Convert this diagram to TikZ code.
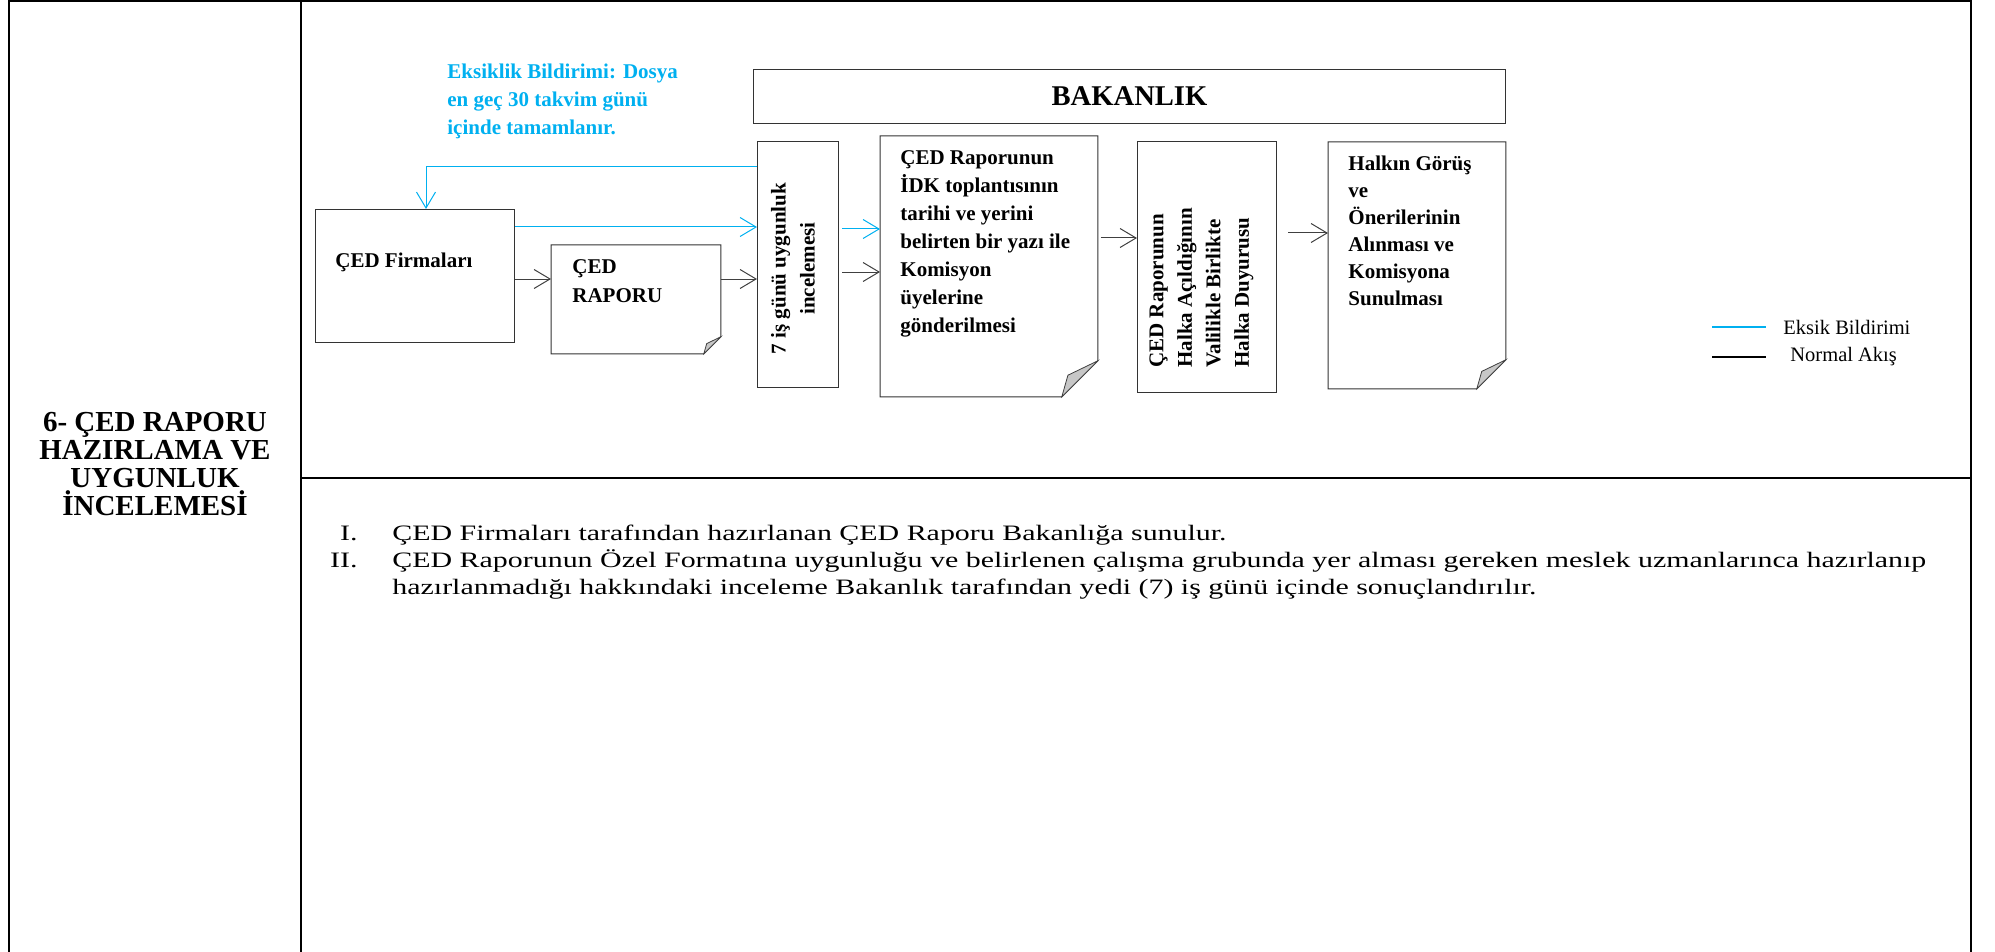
\documentclass[tikz,border=0pt]{standalone}
\usepackage{fontspec}
\setmainfont{Liberation Serif}
\usetikzlibrary{arrows.meta,calc}
\definecolor{eblue}{HTML}{00B0F0}
\newcommand\docoutline[2]{%
  \draw[draw=black!80, line width=0.5pt] (#1.north west) -- (#1.north east) -- ([yshift=#2]#1.south east) -- ([xshift=-#2]#1.south east) -- (#1.south west) -- cycle;
  \filldraw[foldfill] ([yshift=#2]#1.south east) -- ([xshift=-0.83*#2,yshift=0.6*#2]#1.south east) -- ([xshift=-#2]#1.south east) -- cycle;
}
\begin{document}
\begin{tikzpicture}[x=0.5pt,y=-0.5pt,
  frame/.style={line width=1pt, black},
  box/.style={draw=black!80, line width=0.5pt, inner sep=0, anchor=north west},
  ghost/.style={inner sep=0, anchor=north west},
  dtext/.style={font=\fontsize{10.5}{14}\selectfont\bfseries, inner sep=0, align=left},
  ltext/.style={font=\fontsize{11}{13.5}\selectfont, inner sep=0},
  lgtext/.style={font=\fontsize{10.25}{12}\selectfont, inner sep=0},
  arr/.style={draw=black!75, line width=0.5pt, -{Straight Barb[length=8pt,width=9.5pt]}},
  barr/.style={draw=eblue, line width=0.5pt, -{Straight Barb[length=8pt,width=9.5pt]}},
  foldfill/.style={fill=black!22, draw=black!75, line width=0.4pt},
]
\useasboundingbox (0,0) rectangle (1995,952);

% table frame
\draw[frame] (9,952) -- (9,1) -- (1971,1) -- (1971,952);
\draw[frame] (301,1) -- (301,952);
\draw[frame] (301,478) -- (1971,478);

% heading
\node[font=\fontsize{14.5}{14.15}\selectfont\bfseries, align=center] (head) at (155,464)
  {6- ÇED RAPORU\\HAZIRLAMA VE\\UYGUNLUK\\İNCELEMESİ};

% shapes
\node[box, minimum width=376pt, minimum height=27pt, font=\fontsize{14.3}{16}\selectfont\bfseries] (bak) at (753,69) {BAKANLIK};
\node[box, minimum width=99.5pt, minimum height=66.5pt] (firm) at (315,209) {};
\node[ghost, minimum width=84.5pt, minimum height=54pt] (rapor) at (551,245) {};
\node[box, minimum width=40.5pt, minimum height=123pt] (ince) at (757,141) {};
\node[ghost, minimum width=108.5pt, minimum height=130pt] (doc2) at (880,136) {};
\node[box, minimum width=69.5pt, minimum height=125.5pt] (doc3) at (1137,141) {};
\node[ghost, minimum width=88.5pt, minimum height=123pt] (doc4) at (1328,142) {};

\docoutline{rapor}{8.5pt}
\docoutline{doc2}{18pt}
\docoutline{doc4}{14.5pt}

% texts
\node[dtext, anchor=north west] (firmt) at (335,253) {ÇED Firmaları};
\node[dtext, anchor=north west, font=\fontsize{10.5}{14.5}\selectfont\bfseries] (raport) at (572,259) {ÇED\\RAPORU};
\node[dtext, rotate=90, align=center, font=\fontsize{10.5}{14.5}\selectfont\bfseries] (incet) at ([xshift=-2.5pt,yshift=-2pt]ince.center) {7 iş günü uygunluk\\incelemesi};
\node[dtext, anchor=north west] (doc2t) at (900,150) {ÇED Raporunun\\İDK toplantısının\\tarihi ve yerini\\belirten bir yazı ile\\Komisyon\\üyelerine\\gönderilmesi};
\node[dtext, rotate=90, anchor=north west, font=\fontsize{10.5}{14.25}\selectfont\bfseries] (doc3t) at (1149,368) {ÇED Raporunun\\Halka Açıldığının\\Valilikle Birlikte\\Halka Duyurusu};
\node[dtext, anchor=north west, font=\fontsize{10.5}{13.5}\selectfont\bfseries] (doc4t) at (1348,156) {Halkın Görüş\\ve\\Önerilerinin\\Alınması ve\\Komisyona\\Sunulması};
\node[dtext, anchor=north west, text=eblue] (note) at (447,64) {Eksiklik Bildirimi: Dosya\\en geç 30 takvim günü\\içinde tamamlanır.};

% connectors
\coordinate (bend) at (426,167);
\coordinate (yb1) at (0,227);
\coordinate (yk1) at (0,279);
\coordinate (yb2) at (0,229);
\coordinate (yk2) at (0,272);
\coordinate (yk3) at (0,238);
\coordinate (yk4) at (0,233);
\draw[barr] (ince.west |- bend) -- (bend) -- (bend |- firm.north);
\draw[barr] (firm.east |- yb1) -- (ince.west |- yb1);
\draw[arr] (firm.east |- yk1) -- (rapor.west |- yk1);
\draw[arr] (rapor.east |- yk1) -- (ince.west |- yk1);
\draw[barr] ([xshift=1.5pt]ince.east |- yb2) -- (doc2.west |- yb2);
\draw[arr] ([xshift=1.5pt]ince.east |- yk2) -- (doc2.west |- yk2);
\draw[arr] ([xshift=1.5pt]doc2.east |- yk3) -- (doc3.west |- yk3);
\draw[arr] ([xshift=5.5pt]doc3.east |- yk4) -- (doc4.west |- yk4);

% legend
\coordinate (lb1) at (1712,327);
\coordinate (lb2) at (1766,327);
\coordinate (lk1) at (1712,357);
\coordinate (lk2) at (1766,357);
\draw[eblue, line width=1pt] (lb1) -- (lb2);
\draw[black, line width=1pt] (lk1) -- (lk2);
\node[lgtext, anchor=west] (lgb) at (1783,327) {Eksik Bildirimi};
\node[lgtext, anchor=west] (lgk) at (1790,357) {Normal Akış};

% list
\node[ltext, anchor=base east] (n1) at (358,540) {\scalebox{1.36}[1]{I.}};
\node[ltext, anchor=base west] (l1) at (392,540) {\scalebox{1.36}[1]{ÇED Firmaları tarafından hazırlanan ÇED Raporu Bakanlığa sunulur.}};
\node[ltext, anchor=base east] (n2) at (358,567) {\scalebox{1.36}[1]{II.}};
\node[ltext, anchor=base west] (l2) at (392,567) {\scalebox{1.36}[1]{ÇED Raporunun Özel Formatına uygunluğu ve belirlenen çalışma grubunda yer alması gereken meslek uzmanlarınca hazırlanıp}};
\node[ltext, anchor=base west] (l3) at (392,594) {\scalebox{1.36}[1]{hazırlanmadığı hakkındaki inceleme Bakanlık tarafından yedi (7) iş günü içinde sonuçlandırılır.}};
\end{tikzpicture}
\end{document}
